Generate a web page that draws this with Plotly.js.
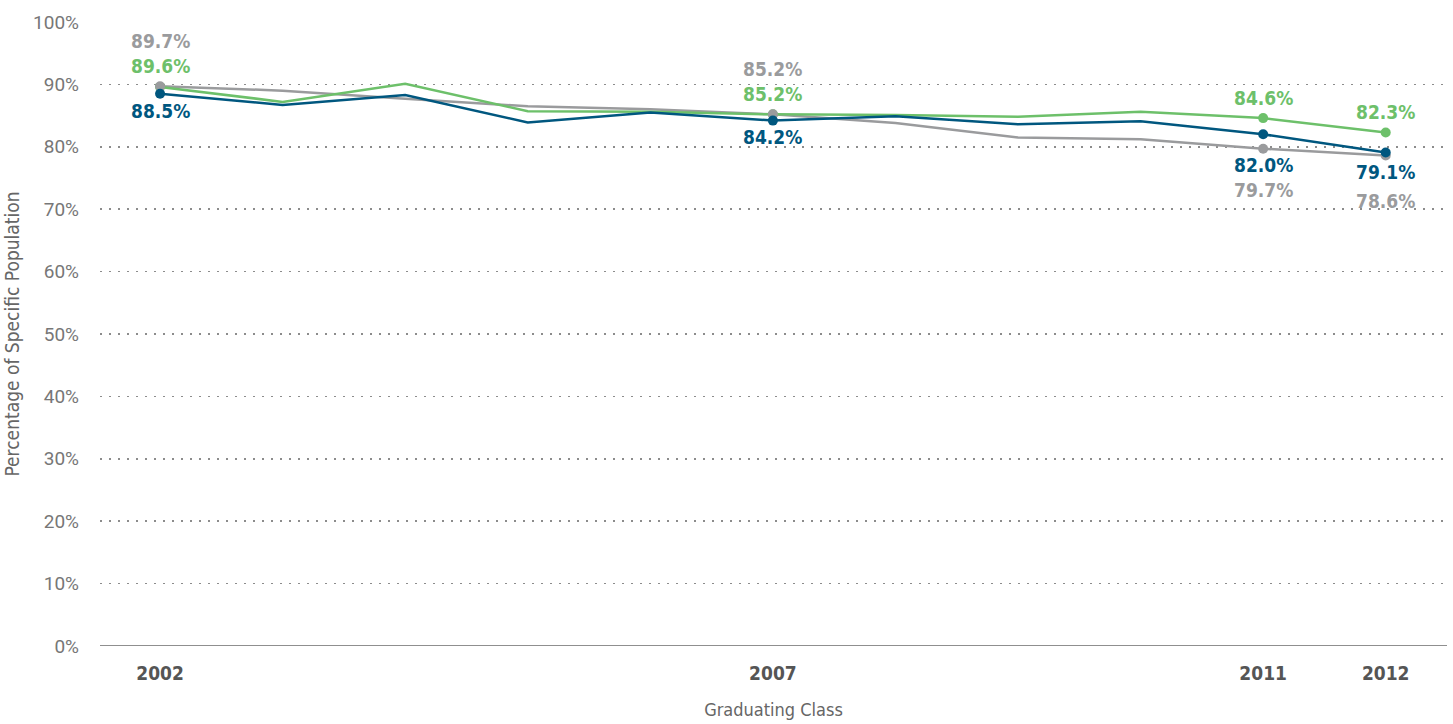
<!DOCTYPE html>
<html><head><meta charset="utf-8">
<script src="https://cdn.plot.ly/plotly-3.0.1.min.js"></script>
<style>html,body{margin:0;padding:0;background:#fff}#chart{width:1453px;height:724px}</style>
</head><body><div id="chart"></div>
<script>
var years = [2002,2003,2004,2005,2006,2007,2008,2009,2010,2011,2012];
var blueVals  = [88.5,86.7,88.3,83.9,85.5,84.2,84.9,83.6,84.1,82.0,79.1];
var greenVals = [89.6,87.2,90.1,85.7,85.6,85.2,85.1,84.8,85.6,84.6,82.3];
var grayVals  = [89.7,89.0,87.7,86.5,86.0,85.2,83.8,81.5,81.2,79.7,78.6];
var labeledYears = [2002,2007,2011,2012];
var yTicks = [0,10,20,30,40,50,60,70,80,90,100];
var xTicks = [2002,2007,2011,2012];

var BLUE='#00577f', GREEN='#6dc06a', GRAY='#9a9b9d';
var labelFont = '"DejaVu Sans Condensed",Roboto,sans-serif';

function markerSubset(vals){
  return labeledYears.map(function(y){return vals[years.indexOf(y)];});
}
var series = [
  {name:'Gray', vals:grayVals, color:GRAY, shifts:[45,45,-41,-45]},
  {name:'Green', vals:greenVals, color:GREEN, shifts:[21,20,20,20]},
  {name:'Blue', vals:blueVals, color:BLUE, shifts:[-17,-16,-31,-20]}
];
var traces=[];
series.forEach(function(s){
  traces.push({x:years,y:s.vals,type:'scatter',mode:'lines',line:{color:s.color,width:2.5},hoverinfo:'skip',showlegend:false});
});
[series[1],series[0],series[2]].forEach(function(s){
  traces.push({x:labeledYears,y:markerSubset(s.vals),type:'scatter',mode:'markers',marker:{color:s.color,size:10},hoverinfo:'skip',showlegend:false});
});
var annotations=[];
series.forEach(function(s){
  labeledYears.forEach(function(yr,i){
    var v=s.vals[years.indexOf(yr)];
    annotations.push({x:yr,y:v,xref:'x',yref:'y',text:v.toFixed(1)+'%',showarrow:false,
      yshift:s.shifts[i],font:{family:labelFont,size:19,color:s.color,weight:'bold'}});
  });
});

var layout={
  width:1453,height:724,
  margin:{l:100,r:6,t:22,b:78},
  paper_bgcolor:'#fff',plot_bgcolor:'#fff',
  showlegend:false,
  xaxis:{range:[2001.51,2012.5],tickmode:'array',tickvals:xTicks,ticktext:xTicks.map(String),
    showgrid:false,zeroline:false,showline:false,ticks:'',ticklabelstandoff:14,
    tickfont:{family:labelFont,size:19,color:'#555',weight:'bold'},
    title:{text:'Graduating Class',font:{family:labelFont,size:18,color:'#666'},standoff:20}},
  yaxis:{range:[0,100],tickmode:'array',tickvals:yTicks,ticktext:yTicks.map(function(v){return v+'%';}),
    showgrid:true,gridcolor:'#8c8c8c',griddash:'2px,7px',gridwidth:1.5,zeroline:false,
    showline:false,ticks:'',ticklabelstandoff:20,
    tickfont:{family:'Roboto,sans-serif',size:19,color:'#777'},
    title:{text:'Percentage of Specific Population',font:{family:labelFont,size:19,color:'#666'},standoff:8}},
  shapes:[{type:'line',xref:'paper',yref:'y',x0:0,x1:1,y0:0,y1:0,line:{color:'#8f8f8f',width:2}}],
  annotations:annotations
};
Plotly.newPlot('chart',traces,layout,{displayModeBar:false,staticPlot:true});
</script></body></html>
